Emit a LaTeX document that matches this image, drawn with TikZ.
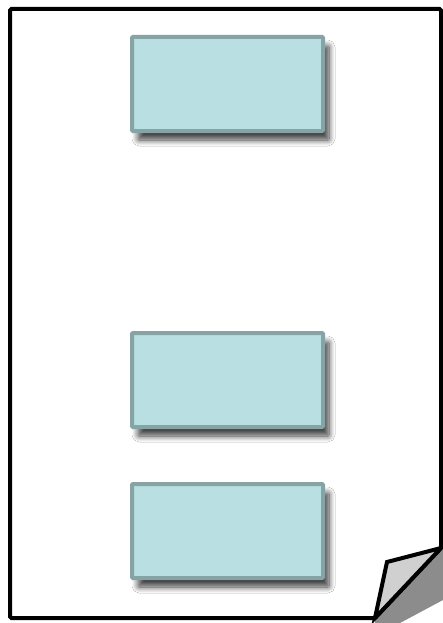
\documentclass[tikz,border=0pt]{standalone}
\usetikzlibrary{shadows.blur}
\definecolor{boxfill}{HTML}{B9DFE2}
\definecolor{boxedge}{HTML}{86A3A5}
\definecolor{foldfill}{HTML}{D0D0D0}
\tikzset{
  pagebox/.style={draw=black, line width=4pt, rounded corners=1.5pt},
  cardbox/.style={draw=boxedge, fill=boxfill, line width=4pt, rounded corners=1pt,
    blur shadow={shadow xshift=6pt, shadow yshift=-9pt, shadow blur steps=10, shadow blur radius=6pt, shadow opacity=75}},
  foldbox/.style={draw=black, fill=foldfill, line width=4pt, line join=miter},
  foldshadow/.style={fill=black!45}
}
\begin{document}
\begin{tikzpicture}[x=1pt,y=-1pt]
\useasboundingbox (0,0) rectangle (443,623);
\fill[white] (0,0) rectangle (443,623);
\fill[foldshadow] (441,548) -- (443,548) -- (443,600) -- (400,623) -- (375,623) -- (375,618) -- cycle;
\draw[pagebox] (10,9) -- (441,9) -- (441,548) -- (375,618) -- (10,618) -- cycle;
\draw[foldbox] (441,548) -- (387,562) -- (375,618) -- cycle;
\node[cardbox, minimum width=191pt, minimum height=94pt, inner sep=0pt] (b1) at (227.5,84) {};
\node[cardbox, minimum width=191pt, minimum height=94pt, inner sep=0pt] (b2) at (227.5,380) {};
\node[cardbox, minimum width=191pt, minimum height=94pt, inner sep=0pt] (b3) at (227.5,531) {};
\end{tikzpicture}
\end{document}
